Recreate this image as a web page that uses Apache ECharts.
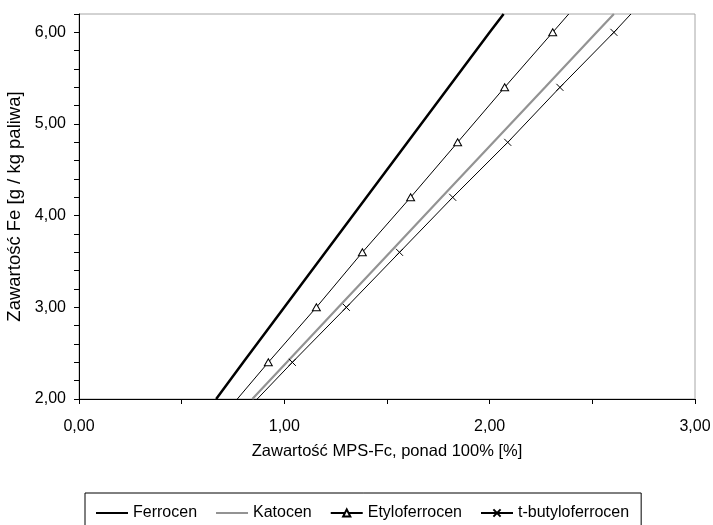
<!DOCTYPE html>
<html>
<head>
<meta charset="utf-8">
<script src="https://cdn.jsdelivr.net/npm/echarts@6/dist/echarts.min.js"></script>
<style>
  html, body { margin: 0; padding: 0; background: #fff; }
  #main { width: 713px; height: 525px; }
</style>
</head>
<body>
<div id="main"></div>
<script>
  var myChart = echarts.init(document.getElementById('main'));

  // poziomy Fe (oś Y) - pierwszy i ostatni punkt to końce linii bez znaczników
  let yLevels   = [2.0, 2.4, 3.0, 3.6, 4.2, 4.8, 5.4, 6.0, 6.2];
  let ferrocen  = [0.668, 0.80, 1.00, 1.20, 1.40, 1.60, 1.80, 2.00, 2.068];
  let katocen   = [0.844, 1.012, 1.263, 1.515, 1.766, 2.018, 2.270, 2.521, 2.605];
  let etylo     = [0.771, 0.922, 1.156, 1.380, 1.615, 1.844, 2.073, 2.307, 2.385];
  let tbutyl    = [0.868, 1.039, 1.302, 1.561, 1.820, 2.088, 2.342, 2.605, 2.688];

  let names = ['Ferrocen', 'Katocen', 'Etyloferrocen', 't-butyloferrocen'];

  function pts(xs, marked){
    let last = xs.length - 1;
    return xs.map(function(x, i){
      let p = { value: [x, yLevels[i]] };
      if(marked && (i === 0 || i === last)) p.symbol = 'none';
      return p;
    });
  }

  function fmt(v){
    return v.toFixed(2).replace('.', ',');
  }

  let font = '"Liberation Sans", Arial, sans-serif';
  let cross = 'path://M0,0L10,10M10,0L0,10';
  let hidden = { opacity: 0 };

  var option = {
    animation: false,
    textStyle: { fontFamily: font },
    grid: {
      left: 79, right: 18, top: 14, bottom: 126,
      outerBoundsMode: 'none',
      show: true, borderColor: '#a6a6a6', borderWidth: 1
    },
    legend: {
      data: [
        { name: names[0], itemStyle: hidden },
        { name: names[1], itemStyle: hidden },
        { name: names[2] },
        { name: names[3] }
      ],
      left: 85, top: 493,
      padding: [12, 12, 30, 10],
      borderColor: '#000', borderWidth: 1,
      itemWidth: 32, itemHeight: 9, itemGap: 18,
      textStyle: { fontSize: 16, color: '#000', fontFamily: font }
    },
    xAxis: {
      type: 'value',
      min: 0, max: 3, interval: 0.5,
      name: 'Zawartość MPS-Fc, ponad 100% [%]',
      nameLocation: 'middle', nameGap: 44,
      nameTextStyle: { fontSize: 16.5, color: '#000' },
      axisLine: { lineStyle: { color: '#000', width: 1 } },
      axisTick: { inside: false, length: 5, lineStyle: { color: '#000' } },
      axisLabel: {
        fontSize: 16, color: '#000', margin: 20,
        formatter: function(v){ return Math.abs(v - Math.round(v)) < 1e-6 ? fmt(v) : ''; }
      },
      splitLine: { show: false }
    },
    yAxis: {
      type: 'value',
      min: 2, max: 6.2, interval: 0.2,
      name: 'Zawartość Fe [g / kg paliwa]',
      nameLocation: 'middle', nameGap: 45,
      nameTextStyle: { fontSize: 18.5, color: '#000' },
      axisLine: { show: true, lineStyle: { color: '#000', width: 1 } },
      axisTick: { show: true, inside: false, length: 5, lineStyle: { color: '#000' } },
      axisLabel: {
        fontSize: 16, color: '#000', margin: 13,
        formatter: function(v){ return Math.abs(v - Math.round(v)) < 1e-6 ? fmt(v) : ''; }
      },
      splitLine: { show: false }
    },
    series: [
      {
        name: names[0], type: 'line', symbol: 'none',
        lineStyle: { color: '#000', width: 2.5 },
        itemStyle: { color: '#000' },
        data: pts(ferrocen, false)
      },
      {
        name: names[1], type: 'line', symbol: 'none',
        lineStyle: { color: '#939393', width: 2.2 },
        itemStyle: { color: '#939393' },
        data: pts(katocen, false)
      },
      {
        name: names[2], type: 'line', symbol: 'triangle', symbolSize: [8, 7],
        lineStyle: { color: '#000', width: 1 },
        itemStyle: { color: '#fff', borderColor: '#000', borderWidth: 1 },
        data: pts(etylo, true)
      },
      {
        name: names[3], type: 'line', symbol: cross, symbolSize: 7,
        lineStyle: { color: '#000', width: 1 },
        itemStyle: { color: 'none', borderColor: '#000', borderWidth: 1 },
        data: pts(tbutyl, true)
      }
    ]
  };

  myChart.setOption(option);
</script>
</body>
</html>
